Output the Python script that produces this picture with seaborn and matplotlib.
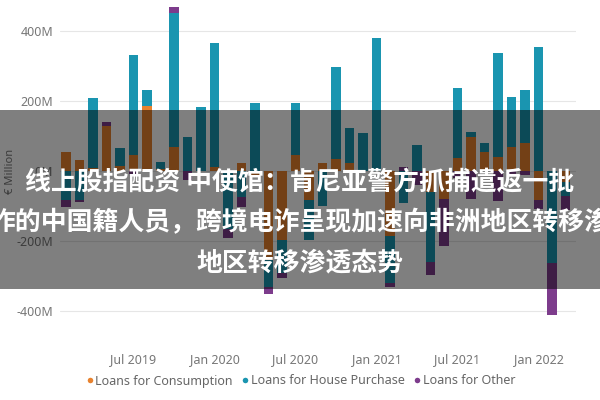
import matplotlib
matplotlib.use("Agg")
import matplotlib.pyplot as plt
import numpy as np
import pandas as pd
import seaborn as sns
from matplotlib.lines import Line2D
from matplotlib.patches import Rectangle

# 样式与字体（set_style 之后再设置字体列表）
sns.set_style("white")
plt.rcParams['font.family'] = ['Noto Sans', 'Noto Sans CJK SC', 'DejaVu Sans']
plt.rcParams['axes.unicode_minus'] = False

# 数据：2019年2月 - 2022年3月，单位百万欧元
months = pd.date_range("2019-02-01", "2022-03-01", freq="MS").strftime("%b %Y").tolist()
tick_labels = ["Jul 2019", "Jan 2020", "Jul 2020", "Jan 2021", "Jul 2021", "Jan 2022"]

consumption = [55, 31, 10, 130, 15, 46, 186, 5, 69, 0, 0, 12, 0, 24, -10, -254, -197, 46, -83,
               23, 34, 23, 0, 0, -185, 0, 0, -60, -80, 37, 97, 54, 40, 69, 80, -83, 0, -30]
house = [-83, -83, 200, 0, 50, 285, 45, 22, 383, 97, 183, 354, -165, -73, 195, -76, -94, 148, -114,
         -100, 263, 100, 109, 380, -135, -90, 74, -200, 0, 200, 14, 26, 297, 142, 151, 354, -263, -40]
other = [-20, -5, 0, 10, 0, -8, 0, 0, 17, -26, 0, 0, -25, -30, 0, -20, -14, 0, 0,
         0, 0, 0, 0, 0, -12, 12, -40, -37, -135, -20, -80, 0, -85, -10, -10, -25, -148, -40]

series_names = ["Loans for Consumption", "Loans for House Purchase", "Loans for Other"]
colors = ["#E8822E", "#1A95B0", "#7D3C8C"]

banner_lines = ["线上股指配资 中使馆：肯尼亚警方抓捕遣返一批",
                "作的中国籍人员，跨境电诈呈现加速向非洲地区转移渗",
                "地区转移渗透态势"]

fig = plt.figure(figsize=(6, 4), dpi=100)
ax = fig.add_axes([60 / 600, 1 - 343 / 400, 516 / 600, 343 / 400])

# 堆叠柱状图：正值向上叠加，负值向下叠加
n = len(months)
pos = np.zeros(n)
neg = np.zeros(n)
for name, vals, col in zip(series_names, [consumption, house, other], colors):
    v = np.array(vals, dtype=float)
    base = np.where(v >= 0, pos, neg)
    sns.barplot(x=months, y=v, order=months, bottom=base, color=col, saturation=1,
                width=0.72, linewidth=0, errorbar=None, ax=ax, zorder=2)
    pos += np.clip(v, 0, None)
    neg += np.clip(v, None, 0)

ax.set_xlim(-0.444, 37.78)
ax.set_ylim(-491, 489)
ax.set_yticks([-400, -200, 0, 200, 400])
ax.set_yticklabels(["-400M", "-200M", "0M", "200M", "400M"])
ax.set_xticks([months.index(t) for t in tick_labels])
ax.set_xticklabels(tick_labels)
ax.tick_params(axis="both", length=0, labelsize=9, labelcolor="#777777")
ax.tick_params(axis="x", pad=7)
ax.tick_params(axis="y", pad=5)
ax.set_xlabel("")
ax.set_ylabel("€ Million", fontsize=8, color="#777777")
ax.yaxis.set_label_coords(-0.085, 0.5)
ax.yaxis.grid(True, color="#e6e6e6", linewidth=0.8)
ax.set_axisbelow(True)
sns.despine(ax=ax, left=True, bottom=True)

# 图例
handles = [Line2D([0], [0], marker="o", color="w", markerfacecolor=c, markersize=5) for c in colors]
fig.legend(handles, series_names, loc="center", bbox_to_anchor=(0.5, 1 - 381 / 400), ncol=3,
           frameon=False, fontsize=9, labelcolor="#666666", handletextpad=0.05,
           columnspacing=0.6, handlelength=0.8)

# 灰色横幅与标题文字
fig.add_artist(Rectangle((0, 1 - 289 / 400), 1, 179 / 400, transform=fig.transFigure,
                         facecolor="black", alpha=0.5, edgecolor="none", zorder=10))
for line, ypix in zip(banner_lines, [182, 223, 263]):
    fig.text(0.5, 1 - ypix / 400, line, ha="center", va="center", fontsize=18.6,
             fontweight="bold", color="white", family=["Noto Sans CJK SC", "DejaVu Sans"], zorder=11)

fig.savefig("out.png", dpi=100)
